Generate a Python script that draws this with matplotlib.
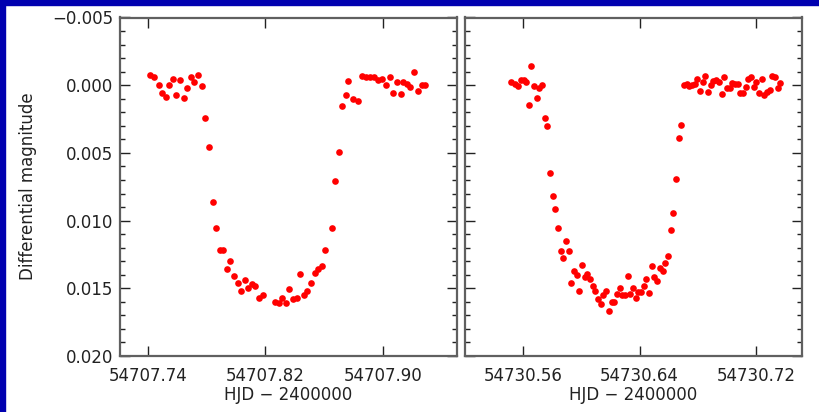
import numpy as np
import matplotlib
matplotlib.use('Agg')
import matplotlib.pyplot as plt
from matplotlib.ticker import FixedLocator, MultipleLocator, FormatStrFormatter, FuncFormatter
from matplotlib.patches import Rectangle

# transit of 2008 Sep 10 (HJD, differential magnitude)
hjd1 = [54707.7412, 54707.7439, 54707.7471, 54707.7494, 54707.7519, 54707.7544,
        54707.7566, 54707.7591, 54707.7616, 54707.7641, 54707.7666, 54707.7689,
        54707.7714, 54707.7739, 54707.7764, 54707.7789, 54707.7812, 54707.7839,
        54707.7862, 54707.7887, 54707.7910, 54707.7937, 54707.7960, 54707.7985,
        54707.8010, 54707.8035, 54707.8058, 54707.8083, 54707.8108, 54707.8131,
        54707.8156, 54707.8181, 54707.8265, 54707.8290, 54707.8315, 54707.8340,
        54707.8363, 54707.8388, 54707.8413, 54707.8438, 54707.8463, 54707.8486,
        54707.8511, 54707.8536, 54707.8561, 54707.8586, 54707.8608, 54707.8652,
        54707.8674, 54707.8699, 54707.8724, 54707.8747, 54707.8765, 54707.8794,
        54707.8828, 54707.8859, 54707.8886, 54707.8913, 54707.8941, 54707.8968,
        54707.8995, 54707.9023, 54707.9050, 54707.9071, 54707.9098, 54707.9125,
        54707.9141, 54707.9164, 54707.9186, 54707.9216, 54707.9241, 54707.9266,
        54707.9289]
dmag1 = [-0.00074, -0.00059, 0.00000, 0.00059, 0.00086, 0.00000,
         -0.00047, 0.00071, -0.00042, 0.00093, 0.00017, -0.00059,
         -0.00020, -0.00079, 0.00005, 0.00243, 0.00456, 0.00859,
         0.01053, 0.01215, 0.01215, 0.01355, 0.01298, 0.01406,
         0.01458, 0.01522, 0.01436, 0.01495, 0.01470, 0.01485,
         0.01573, 0.01546, 0.01603, 0.01608, 0.01571, 0.01608,
         0.01507, 0.01576, 0.01568, 0.01396, 0.01549, 0.01517,
         0.01458, 0.01387, 0.01357, 0.01333, 0.01220, 0.01055,
         0.00709, 0.00493, 0.00157, 0.00076, -0.00030, 0.00105,
         0.00113, -0.00071, -0.00064, -0.00057, -0.00057, -0.00042,
         -0.00049, -0.00005, -0.00057, 0.00061, -0.00020, 0.00068,
         -0.00025, -0.00010, 0.00012, -0.00099, 0.00044, 0.00002,
         -0.00003]

# transit of 2008 Oct 3
hjd2 = [54730.5520, 54730.5545, 54730.5568, 54730.5589, 54730.5607, 54730.5625,
        54730.5641, 54730.5660, 54730.5676, 54730.5696, 54730.5714, 54730.5733,
        54730.5751, 54730.5769, 54730.5787, 54730.5806, 54730.5824, 54730.5842,
        54730.5860, 54730.5879, 54730.5897, 54730.5915, 54730.5933, 54730.5952,
        54730.5970, 54730.5988, 54730.6006, 54730.6025, 54730.6043, 54730.6061,
        54730.6080, 54730.6098, 54730.6116, 54730.6134, 54730.6153, 54730.6171,
        54730.6191, 54730.6210, 54730.6228, 54730.6246, 54730.6264, 54730.6283,
        54730.6301, 54730.6319, 54730.6337, 54730.6356, 54730.6374, 54730.6392,
        54730.6410, 54730.6429, 54730.6447, 54730.6467, 54730.6486, 54730.6502,
        54730.6520, 54730.6538, 54730.6559, 54730.6577, 54730.6595, 54730.6614,
        54730.6632, 54730.6650, 54730.6668, 54730.6687, 54730.6705, 54730.6723,
        54730.6741, 54730.6760, 54730.6778, 54730.6796, 54730.6814, 54730.6833,
        54730.6851, 54730.6869, 54730.6887, 54730.6906, 54730.6924, 54730.6942,
        54730.6963, 54730.6981, 54730.6999, 54730.7017, 54730.7036, 54730.7054,
        54730.7072, 54730.7090, 54730.7109, 54730.7127, 54730.7145, 54730.7164,
        54730.7182, 54730.7200, 54730.7218, 54730.7237, 54730.7255, 54730.7273,
        54730.7291, 54730.7310, 54730.7328, 54730.7346, 54730.7364]
dmag2 = [-0.00025, -0.00010, 0.00005, -0.00037, -0.00035, -0.00027,
         0.00147, -0.00145, 0.00005, 0.00093, 0.00019, 0.00000,
         0.00243, 0.00299, 0.00645, 0.00820, 0.00918, 0.01058,
         0.01222, 0.01274, 0.01149, 0.01225, 0.01458, 0.01372,
         0.01399, 0.01519, 0.01330, 0.01419, 0.01392, 0.01433,
         0.01485, 0.01519, 0.01578, 0.01615, 0.01551, 0.01522,
         0.01671, 0.01598, 0.01598, 0.01539, 0.01500, 0.01546,
         0.01546, 0.01411, 0.01539, 0.01495, 0.01568, 0.01529,
         0.01529, 0.01480, 0.01431, 0.01534, 0.01335, 0.01419,
         0.01443, 0.01347, 0.01372, 0.01311, 0.01261, 0.01068,
         0.00942, 0.00690, 0.00393, 0.00292, 0.00000, -0.00008,
         0.00007, -0.00003, -0.00008, -0.00044, 0.00044, -0.00027,
         -0.00066, 0.00049, 0.00002, -0.00030, -0.00037, -0.00027,
         0.00064, -0.00064, 0.00024, 0.00024, -0.00015, -0.00010,
         -0.00010, 0.00059, 0.00059, 0.00015, -0.00049, -0.00064,
         0.00015, -0.00025, 0.00056, -0.00049, 0.00071, 0.00049,
         0.00032, -0.00066, -0.00064, 0.00022, -0.00013]

xticks1 = [54707.74, 54707.82, 54707.90]
xticks2 = [54730.56, 54730.64, 54730.72]
xlim1 = (54707.7207, 54707.9505)
xlim2 = (54730.5205, 54730.7510)

plt.rcParams['font.family'] = ['DejaVu Sans']
plt.rcParams['font.size'] = 12

fig = plt.figure(figsize=(8.19, 4.12), dpi=100)
fig.patch.set_facecolor('white')

# blue frame along top and left edge
fig.patches.append(Rectangle((0, 1 - 5 / 412.), 1, 5 / 412., transform=fig.transFigure,
                             color='#0000b0', zorder=0))
fig.patches.append(Rectangle((0, 0), 5 / 819., 1, transform=fig.transFigure,
                             color='#0000b0', zorder=0))

ax1 = fig.add_axes([120 / 819., 56 / 412., 336.7 / 819., 338.5 / 412.])
ax2 = fig.add_axes([465 / 819., 56 / 412., 336.7 / 819., 338.5 / 412.])

# magnitudes with a real minus sign
magfmt = FuncFormatter(lambda v, pos: ('%.3f' % v).replace('-', '\u2212'))

for ax, x, y, xt, xl in [(ax1, hjd1, dmag1, xticks1, xlim1),
                         (ax2, hjd2, dmag2, xticks2, xlim2)]:
    ax.plot(x, y, 'o', color='#ff0000', ms=4.8, mec='none')
    ax.set_xlim(xl)
    ax.set_ylim(0.020, -0.005)
    ax.xaxis.set_major_locator(FixedLocator(xt))
    ax.xaxis.set_major_formatter(FormatStrFormatter('%.2f'))
    ax.yaxis.set_major_locator(MultipleLocator(0.005))
    ax.yaxis.set_minor_locator(MultipleLocator(0.001))
    ax.yaxis.set_major_formatter(magfmt)
    ax.tick_params(which='both', direction='in', top=True, right=True,
                   color='#222222', width=1.0, labelcolor='#222222')
    ax.tick_params(which='major', length=7)
    ax.tick_params(which='minor', length=3.5)
    ax.tick_params(axis='x', pad=8)
    ax.tick_params(axis='y', pad=5)
    for s in ax.spines.values():
        s.set_color('#606060')
        s.set_linewidth(1.6)
    ax.set_xlabel('HJD \u2212 2400000', color='#222222', labelpad=1)

ax2.tick_params(labelleft=False)
fig.text(28 / 819., 1 - 186.5 / 412., 'Differential magnitude', rotation=90,
         ha='center', va='center', color='#222222')

fig.savefig('out.png', dpi=100)
